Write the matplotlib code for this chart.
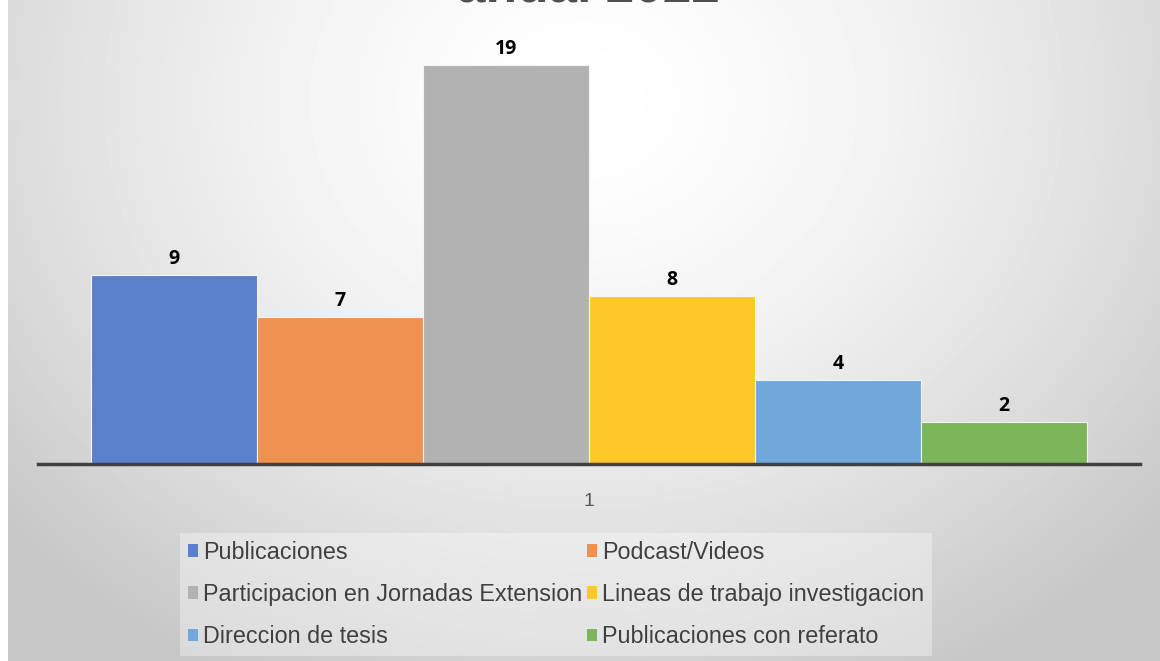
import numpy as np
import matplotlib.pyplot as plt
from matplotlib.patches import Patch

# data
categories = ['Publicaciones', 'Podcast/Videos', 'Participacion en Jornadas Extension',
              'Lineas de trabajo investigacion', 'Direccion de tesis', 'Publicaciones con referato']
values = [9, 7, 19, 8, 4, 2]
colors = ['#5A80CB', '#EF9150', '#B2B2B2', '#FFC82A', '#70A8DC', '#7DB55A']
x_label = '1'
title = 'anual 2022'

W, H = 1160, 661
fig = plt.figure(figsize=(W / 100, H / 100), dpi=100)
fig.patch.set_facecolor('white')

# radial gradient background (chart area starts a few px in from the left)
bg = fig.add_axes([8 / W, 0, 1 - 8 / W, 1])
yy, xx = np.mgrid[0:H, 0:W - 8]
r = np.hypot((xx - 575) / 1.0, (yy - 100) / 0.85)
shade = 1.0 - 0.22 * np.clip(r / 760, 0, 1) ** 1.6
bg.imshow(shade, cmap='gray', vmin=0, vmax=1, aspect='auto', extent=[0, 1, 0, 1], origin='upper')
bg.set_axis_off()

# title, mostly cut off by the top edge
fig.text(588 / W, 1 - 1 / H, title, ha='center', va='baseline', fontsize=37,
         fontweight='bold', color='#505050', family='Liberation Sans')

ax = fig.add_axes([38 / W, (H - 464) / H, 1102 / W, 420 / H])
ax.set_facecolor('none')
n = len(values)
bw = 166 / 1102
x0 = 0.5 - n * bw / 2
xs = [x0 + bw * (i + 0.5) for i in range(n)]
bars = ax.bar(xs, values, width=bw, color=colors, edgecolor='#f4f4f4', linewidth=0.8)
for xi, v in zip(xs, values):
    ax.text(xi, v + 0.3, str(v), ha='center', va='bottom', fontsize=14,
            fontweight='bold', color='black', family='Open Sans')

ax.set_xlim(0, 1)
ax.set_ylim(0, 20)
for s in ['top', 'right', 'left']:
    ax.spines[s].set_visible(False)
ax.spines['bottom'].set_color('#404040')
ax.spines['bottom'].set_linewidth(2.5)
ax.set_yticks([])
ax.set_xticks([0.5])
ax.set_xticklabels([x_label], fontsize=14, color='#595959', family='Liberation Sans')
ax.tick_params(axis='x', length=0, pad=21)

# legend filled row by row: reorder for matplotlib's column-major fill
order = [0, 2, 4, 1, 3, 5]
handles = [Patch(facecolor=colors[i], edgecolor='none') for i in order]
labels = [categories[i] for i in order]
leg = fig.legend(handles, labels, ncol=2, loc='upper center',
                 bbox_to_anchor=(556 / W, 1 - 521 / H), frameon=True, fancybox=False,
                 handlelength=0.45, handleheight=0.45, handletextpad=0.2,
                 columnspacing=0.2, labelspacing=0.82, borderpad=0.35,
                 prop={'family': 'Liberation Sans', 'size': 16.8})
leg.get_frame().set_facecolor('white')
leg.get_frame().set_alpha(0.35)
leg.get_frame().set_edgecolor('none')
for t in leg.get_texts():
    t.set_color('#404040')

fig.savefig('out.png', dpi=100)
